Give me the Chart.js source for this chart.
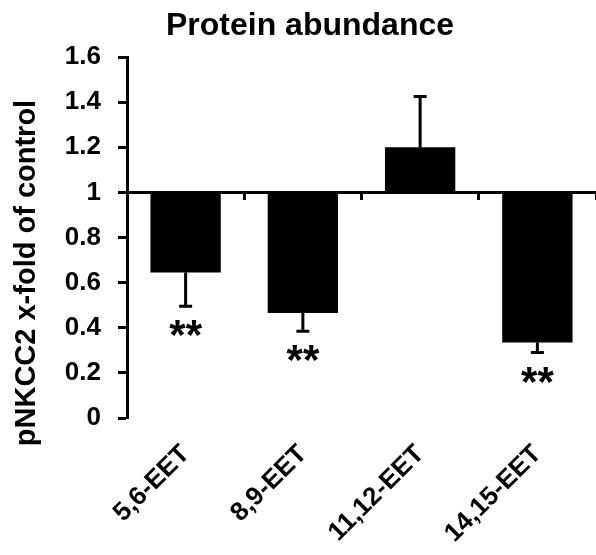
<!DOCTYPE html>
<html>
<head>
<meta charset="utf-8">
<script src="https://cdn.jsdelivr.net/npm/chart.js@4"></script>
<style>
  html, body { margin: 0; padding: 0; background: #fff; }
  #wrap { width: 596px; height: 555px; }
</style>
</head>
<body>
<div id="wrap"><canvas id="chart" width="596" height="555"></canvas></div>
<script>
// data
const categories = ['5,6-EET', '8,9-EET', '11,12-EET', '14,15-EET'];
const baseline = 1; // bars hang from the control level
const values = [0.645, 0.465, 1.2, 0.335];
const errors = [0.15, 0.08, 0.225, 0.045];
const marks = ['**', '**', '', '**'];
const yMin = 0, yMax = 1.6, yStep = 0.2;

const FONT = '"Liberation Sans", Arial, sans-serif';

// one-sided error bars + significance stars
const errorBars = {
  id: 'errorBars',
  afterDatasetsDraw(chart) {
    const ctx = chart.ctx;
    const y = chart.scales.y;
    chart.getDatasetMeta(0).data.forEach((bar, i) => {
      const dir = values[i] < baseline ? -1 : 1;
      const yv = y.getPixelForValue(values[i]);
      const ye = y.getPixelForValue(values[i] + dir * errors[i]);
      ctx.save();
      ctx.strokeStyle = '#000';
      ctx.lineWidth = 3;
      ctx.beginPath();
      ctx.moveTo(bar.x, yv);
      ctx.lineTo(bar.x, ye);
      ctx.moveTo(bar.x - 6.5, ye);
      ctx.lineTo(bar.x + 6.5, ye);
      ctx.stroke();
      if (marks[i]) {
        ctx.fillStyle = '#000';
        ctx.font = 'bold 42px ' + FONT;
        ctx.textAlign = 'center';
        ctx.textBaseline = 'alphabetic';
        ctx.fillText(marks[i], bar.x, ye + 43);
      }
      ctx.restore();
    });
  }
};

// y axis title, drawn by hand so it can sit a bit low like the original
const yTitle = {
  id: 'yTitle',
  afterDraw(chart) {
    const ctx = chart.ctx;
    ctx.save();
    ctx.translate(35, 273);
    ctx.rotate(-Math.PI / 2);
    ctx.fillStyle = '#000';
    ctx.font = 'bold 29px ' + FONT;
    ctx.textAlign = 'center';
    ctx.textBaseline = 'alphabetic';
    ctx.fillText('pNKCC2 x-fold of control', 0, 0);
    ctx.restore();
  }
};

new Chart('chart', {
  type: 'bar',
  data: {
    labels: categories,
    datasets: [{
      data: values.map(v => [baseline, v]), // floating bars from 1
      backgroundColor: '#000',
      borderWidth: 0,
      barPercentage: 0.6,
      categoryPercentage: 1
    }]
  },
  options: {
    responsive: false,
    animation: false,
    layout: { padding: { left: 19, right: -5, top: 0, bottom: 0 } },
    plugins: {
      legend: { display: false },
      tooltip: { enabled: false },
      title: {
        display: true,
        text: 'Protein abundance',
        color: '#000',
        font: { family: FONT, size: 32, weight: 'bold' },
        padding: { top: 7, bottom: 11.6 }
      }
    },
    scales: {
      x: {
        position: 'bottom',
        grid: { display: false },
        border: { display: false },
        ticks: {
          color: '#000',
          font: { family: FONT, size: 26, weight: 'bold' },
          minRotation: 45,
          maxRotation: 45,
          padding: 13
        },
        afterFit(scale) { scale.height = 137; }
      },
      // axis line at the control level with small ticks between bars
      x2: {
        type: 'category',
        position: { y: baseline },
        grid: { drawOnChartArea: false, offset: true, tickLength: 6, tickWidth: 3, tickColor: '#000' },
        border: { color: '#000', width: 3 },
        ticks: { display: false }
      },
      y: {
        min: yMin,
        max: yMax,
        grid: { drawOnChartArea: false, tickLength: 9, tickWidth: 3, tickColor: '#000' },
        border: { color: '#000', width: 3 },
        ticks: {
          stepSize: yStep,
          color: '#000',
          padding: 17,
          font: { family: FONT, size: 26, weight: 'bold' },
          callback: v => String(+v.toFixed(1))
        },
        afterFit(scale) { scale.width = 108; }
      }
    }
  },
  plugins: [errorBars, yTitle]
});
</script>
</body>
</html>
